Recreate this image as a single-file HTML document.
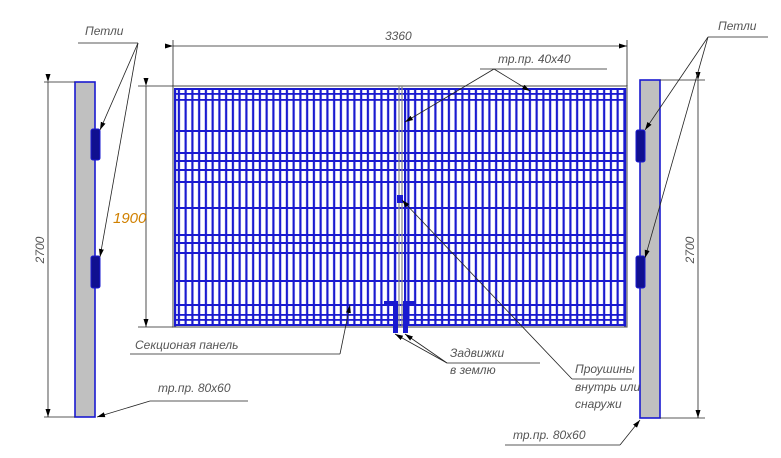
<!DOCTYPE html>
<html><head><meta charset="utf-8"><style>
html,body{margin:0;padding:0;background:#fff;}
svg{display:block;}
text{font-family:"Liberation Sans",sans-serif;font-style:italic;fill:#555;font-size:12px;}
</style></head><body>
<svg width="781" height="458" viewBox="0 0 781 458" xmlns="http://www.w3.org/2000/svg">
<defs>
<pattern id="vb" x="176" y="0" width="6.75" height="10" patternUnits="userSpaceOnUse">
<rect x="1.8" y="0" width="2.2" height="10" fill="#1a1ad0"/>
</pattern>
<marker id="ar" markerWidth="8" markerHeight="6" refX="8" refY="3" orient="auto" markerUnits="userSpaceOnUse">
<path d="M0,0.5 L8,3 L0,5.5z" fill="#000"/>
</marker>
</defs>

<rect x="175" y="88" width="222" height="238" fill="url(#vb)"/>
<rect x="404" y="88" width="222" height="238" fill="url(#vb)"/>
<g fill="#1a1ad0">
<rect x="175" y="88" width="451" height="2"/>
<rect x="175" y="93" width="451" height="1.8"/>
<rect x="175" y="99" width="451" height="1.8"/>
<rect x="175" y="130" width="451" height="2"/>
<rect x="175" y="152" width="451" height="2"/>
<rect x="175" y="160" width="451" height="2"/>
<rect x="175" y="169" width="451" height="2"/>
<rect x="175" y="181" width="451" height="2"/>
<rect x="175" y="207" width="451" height="2"/>
<rect x="175" y="234" width="451" height="2"/>
<rect x="175" y="242" width="451" height="2"/>
<rect x="175" y="252" width="451" height="2"/>
<rect x="175" y="280" width="451" height="2"/>
<rect x="175" y="304" width="451" height="2"/>
<rect x="175" y="314" width="451" height="1.8"/>
<rect x="175" y="319" width="451" height="1.8"/>
<rect x="175" y="324" width="451" height="2"/>
<rect x="174" y="88" width="2.2" height="239"/>
<rect x="624" y="88" width="2.2" height="239"/>
<rect x="394" y="88" width="2.2" height="239"/>
<rect x="404" y="88" width="2.2" height="239"/>
</g>
<rect x="173" y="86" width="454" height="241" fill="none" stroke="#666" stroke-width="1.2"/>
<line x1="399" y1="86" x2="399" y2="327" stroke="#888" stroke-width="1.2"/>
<line x1="402" y1="86" x2="402" y2="327" stroke="#888" stroke-width="1.2"/>
<rect x="397" y="195" width="6" height="8" fill="#1a1ad0"/>

<g fill="#1a1ad0">
<rect x="384" y="301" width="14" height="3"/>
<rect x="393" y="301" width="5" height="32"/>
<rect x="403" y="301" width="13" height="3"/>
<rect x="403" y="301" width="5" height="32"/>
</g>

<rect x="75" y="82" width="20" height="335" fill="#c0c0c0" stroke="#1a1ad0" stroke-width="1.6"/>
<rect x="640" y="80" width="20" height="338" fill="#c0c0c0" stroke="#1a1ad0" stroke-width="1.6"/>
<g fill="#101090" stroke="#1a1ad0" stroke-width="1">
<rect x="91" y="129" width="9" height="31" rx="2"/>
<rect x="91" y="256" width="9" height="32" rx="2"/>
<rect x="636" y="130" width="9" height="32" rx="2"/>
<rect x="636" y="256" width="9" height="32" rx="2"/>
</g>

<g stroke="#222" stroke-width="0.8" fill="none">
<line x1="173" y1="40" x2="173" y2="86"/>
<line x1="627" y1="40" x2="627" y2="86"/>
<line x1="173" y1="46" x2="627" y2="46" marker-start="url(#ar)" marker-end="url(#ar)"/>
<line x1="44" y1="82" x2="75" y2="82"/>
<line x1="44" y1="417" x2="75" y2="417"/>
<line x1="48" y1="82" x2="48" y2="417" marker-start="url(#ar)" marker-end="url(#ar)"/>
<line x1="660" y1="80" x2="705" y2="80"/>
<line x1="660" y1="418" x2="705" y2="418"/>
<line x1="698" y1="80" x2="698" y2="418" marker-start="url(#ar)" marker-end="url(#ar)"/>
<line x1="138" y1="86" x2="173" y2="86"/>
<line x1="138" y1="327" x2="173" y2="327"/>
<line x1="146" y1="86" x2="146" y2="327" marker-start="url(#ar)" marker-end="url(#ar)"/>
<line x1="78" y1="43" x2="138" y2="43"/>
<line x1="138" y1="43" x2="100" y2="130" marker-end="url(#ar)"/>
<line x1="138" y1="43" x2="100" y2="257" marker-end="url(#ar)"/>
<line x1="708" y1="37" x2="768" y2="37"/>
<line x1="708" y1="37" x2="645" y2="130" marker-end="url(#ar)"/>
<line x1="708" y1="37" x2="645" y2="258" marker-end="url(#ar)"/>
<line x1="480" y1="69" x2="607" y2="69"/>
<line x1="494" y1="69" x2="405" y2="122" marker-end="url(#ar)"/>
<line x1="494" y1="69" x2="530" y2="91" marker-end="url(#ar)"/>
<line x1="130" y1="354" x2="340" y2="354"/>
<line x1="340" y1="354" x2="350" y2="305" marker-end="url(#ar)"/>
<line x1="150" y1="401" x2="248" y2="401"/>
<line x1="150" y1="401" x2="97" y2="417" marker-end="url(#ar)"/>
<line x1="505" y1="445" x2="620" y2="445"/>
<line x1="620" y1="445" x2="640" y2="420" marker-end="url(#ar)"/>
<line x1="447" y1="363" x2="540" y2="363"/>
<line x1="447" y1="363" x2="395" y2="334" marker-end="url(#ar)"/>
<line x1="447" y1="363" x2="405" y2="334" marker-end="url(#ar)"/>
<line x1="572" y1="379" x2="632" y2="379"/>
<line x1="572" y1="379" x2="402" y2="200" marker-end="url(#ar)"/>
</g>

<text x="385" y="40">3360</text>
<text x="85" y="35" font-size="11">Петли</text>
<text x="718" y="30" font-size="11">Петли</text>
<text x="498" y="63">тр.пр. 40х40</text>
<text x="135" y="349" font-size="11">Секционая панель</text>
<text x="158" y="392">тр.пр. 80х60</text>
<text x="513" y="439">тр.пр. 80х60</text>
<text x="450" y="357">Задвижки</text>
<text x="450" y="374">в землю</text>
<text x="575" y="373" font-size="10">Проушины</text>
<text x="575" y="391" font-size="10">внутрь или</text>
<text x="575" y="408" font-size="10">снаружи</text>
<text x="113" y="223" style="fill:#d08000;font-size:15px">1900</text>
<text transform="translate(44,250) rotate(-90)" text-anchor="middle" font-size="13">2700</text>
<text transform="translate(694,250) rotate(-90)" text-anchor="middle" font-size="13">2700</text>
</svg>
</body></html>
